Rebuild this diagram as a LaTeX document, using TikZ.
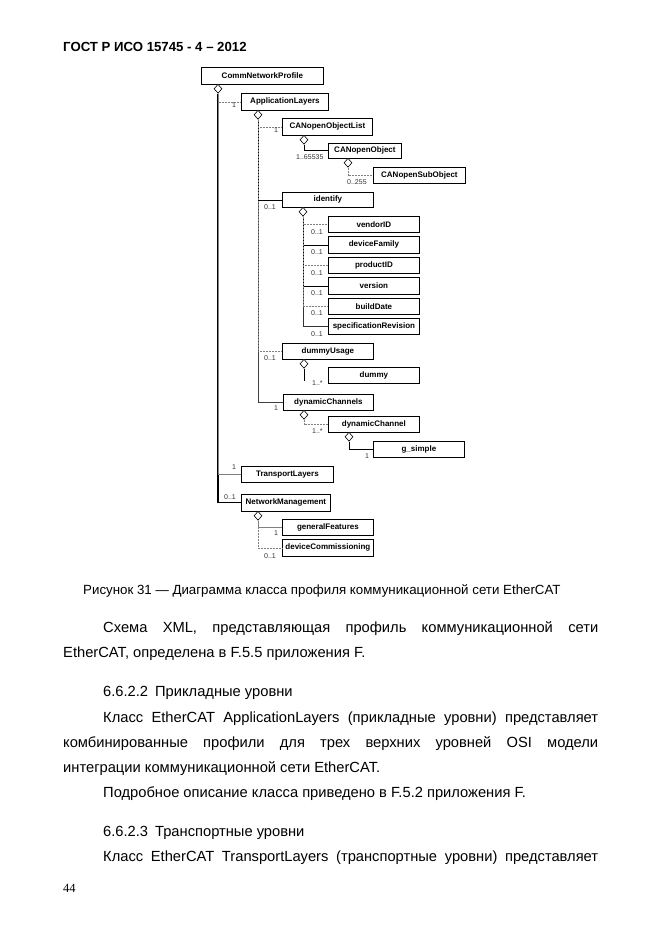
\documentclass[tikz,border=0pt]{standalone}
\usepackage{fontspec}
\setmainfont{Liberation Sans}
\newfontfamily\pagenumfont{Liberation Serif}
\usetikzlibrary{shapes.geometric}
\begin{document}
\begin{tikzpicture}[x=1pt,y=-1pt,
 cls/.style={draw, line width=0.8pt, inner sep=0pt, anchor=north west, font=\fontsize{8}{9}\selectfont\bfseries},
 agg/.style={draw, diamond, fill=white, inner sep=0pt, minimum width=8pt, minimum height=9pt, anchor=north, line width=0.6pt},
 conn/.style={line width=0.8pt},
 mainconn/.style={line width=1.1pt},
 faint/.style={line width=0.7pt, gray, dash pattern=on 2pt off 1pt},
 mult/.style={font=\fontsize{7}{8}\selectfont, inner sep=0pt, anchor=base west, text=black!80},
 body/.style={font=\fontsize{14.7}{17}\selectfont, inner sep=0pt, anchor=base west}]
\useasboundingbox[fill=white] (0,0) rectangle (661,936);

% header
\node[body, font=\fontsize{13.2}{15}\selectfont\bfseries] (hdr) at (63,52) {ГОСТ Р ИСО 15745 - 4 – 2012};

% class boxes
\node[cls, minimum width=122pt, minimum height=17pt] (cnp) at (201,67) {CommNetworkProfile};
\node[cls, minimum width=87pt, minimum height=17pt] (al) at (241,93) {ApplicationLayers};
\node[cls, minimum width=90pt, minimum height=17pt] (col) at (282,118) {CANopenObjectList};
\node[cls, minimum width=73pt, minimum height=15pt] (co) at (328,143) {CANopenObject};
\node[cls, minimum width=92pt, minimum height=16pt] (cso) at (373,167) {CANopenSubObject};
\node[cls, minimum width=91pt, minimum height=15pt] (id) at (282,192) {identify};
\node[cls, minimum width=91pt, minimum height=16pt] (vid) at (328,216) {vendorID};
\node[cls, minimum width=91pt, minimum height=17pt] (df) at (328,236) {deviceFamily};
\node[cls, minimum width=91pt, minimum height=16pt] (pid) at (328,257) {productID};
\node[cls, minimum width=91pt, minimum height=17pt] (ver) at (328,277) {version};
\node[cls, minimum width=91pt, minimum height=16pt] (bd) at (328,298) {buildDate};
\node[cls, minimum width=91pt, minimum height=16pt] (sr) at (328,318) {specificationRevision};
\node[cls, minimum width=91pt, minimum height=16pt] (du) at (282,343) {dummyUsage};
\node[cls, minimum width=91pt, minimum height=16pt] (dm) at (328,367) {dummy};
\node[cls, minimum width=90pt, minimum height=16pt] (dcs) at (283,394) {dynamicChannels};
\node[cls, minimum width=91pt, minimum height=16pt] (dc) at (328,416) {dynamicChannel};
\node[cls, minimum width=91pt, minimum height=16pt] (gs) at (373,441) {g\_simple};
\node[cls, minimum width=92pt, minimum height=16pt] (tl) at (241,466) {TransportLayers};
\node[cls, minimum width=89pt, minimum height=17pt] (nm) at (241,494) {NetworkManagement};
\node[cls, minimum width=91pt, minimum height=16pt] (gf) at (282,519) {generalFeatures};
\node[cls, minimum width=91pt, minimum height=17pt] (dvc) at (282,539) {deviceCommissioning};

% aggregation diamonds
\node[agg] (dcnp) at (218,84) {};
\node[agg] (dal) at (258,110) {};
\node[agg] (dcol) at (304,135) {};
\node[agg] (dco) at (348,158) {};
\node[agg] (did) at (303,207) {};
\node[agg] (ddu) at (304,359) {};
\node[agg] (ddcs) at (304,410) {};
\node[agg] (ddc) at (349,432) {};
\node[agg] (dnm) at (258,511) {};

% connectors
\draw[mainconn] (dcnp.south) |- (nm.west);
\draw[faint] (dcnp.south) |- (al.west);
\draw[conn, gray] (dcnp.south) |- (tl.west);
\draw[conn, black!75] (dal.south) |- (dcs.west);
\draw[faint] (dal.south) |- (col.west);
\draw[conn] (dal.south) |- (id.west);
\draw[faint] (dal.south) |- (du.west);
\draw[conn] (dcol.south) |- (co.west);
\draw[faint] (dco.south) |- (cso.west);
\draw[conn, black!80] (did.south) |- (sr.west);
\draw[faint] (did.south) |- (vid.west);
\draw[conn] (did.south) |- (df.west);
\draw[faint] (did.south) |- (pid.west);
\draw[conn] (did.south) |- (ver.west);
\draw[faint] (did.south) |- (bd.west);
\draw[conn] (ddu.south) -- ++(0,12) coordinate (ddue);
\draw[faint] (ddcs.south) |- (dc.west);
\draw[conn] (ddc.south) |- (gs.west);
\draw[faint] (dnm.south) |- (dvc.west);
\draw[conn, gray] (dnm.south) |- (gf.west);

% multiplicities
\node[mult] (m1) at (232,108) {1};
\node[mult] (m2) at (274,133) {1};
\node[mult] (m3) at (296,160) {1..65535};
\node[mult] (m4) at (347,185) {0..255};
\node[mult] (m5) at (264,209) {0..1};
\node[mult] (m6) at (311,234) {0..1};
\node[mult] (m7) at (311,254) {0..1};
\node[mult] (m8) at (311,275) {0..1};
\node[mult] (m9) at (311,295) {0..1};
\node[mult] (m10) at (311,315) {0..1};
\node[mult] (m11) at (311,336) {0..1};
\node[mult] (m12) at (264,360) {0..1};
\node[mult] (m13) at (312,385) {1..*};
\node[mult] (m14) at (274,410) {1};
\node[mult] (m15) at (312,433) {1..*};
\node[mult] (m16) at (365,458) {1};
\node[mult] (m17) at (232,469) {1};
\node[mult] (m18) at (224,499) {0..1};
\node[mult] (m19) at (274,535) {1};
\node[mult] (m20) at (264,558) {0..1};

% text
\node[body, font=\fontsize{13.3}{15}\selectfont] (cap) at (83,594) {Рисунок 31 — Диаграмма класса профиля коммуникационной сети EtherCAT};
\node[body] (p1a) at (103,632) {\makebox[495pt][s]{Схема XML, представляющая профиль коммуникационной сети}};
\node[body] (p1b) at (63,657) {EtherCAT, определена в F.5.5 приложения F.};
\node[body] (h1) at (103,696) {6.6.2.2\hspace{7pt}Прикладные уровни};
\node[body] (p2a) at (103,722) {\makebox[495pt][s]{Класс EtherCAT ApplicationLayers (прикладные уровни) представляет}};
\node[body] (p2b) at (63,747) {\makebox[535pt][s]{комбинированные профили для трех верхних уровней OSI модели}};
\node[body] (p2c) at (63,772) {интеграции коммуникационной сети EtherCAT.};
\node[body] (p3) at (103,797) {Подробное описание класса приведено в F.5.2 приложения F.};
\node[body] (h2) at (103,836) {6.6.2.3\hspace{7pt}Транспортные уровни};
\node[body] (p4) at (103,861) {\makebox[495pt][s]{Класс EtherCAT TransportLayers (транспортные уровни) представляет}};
\node[body, font=\pagenumfont\fontsize{12.5}{14}\selectfont] (pn) at (63,892) {44};
\end{tikzpicture}
\end{document}
